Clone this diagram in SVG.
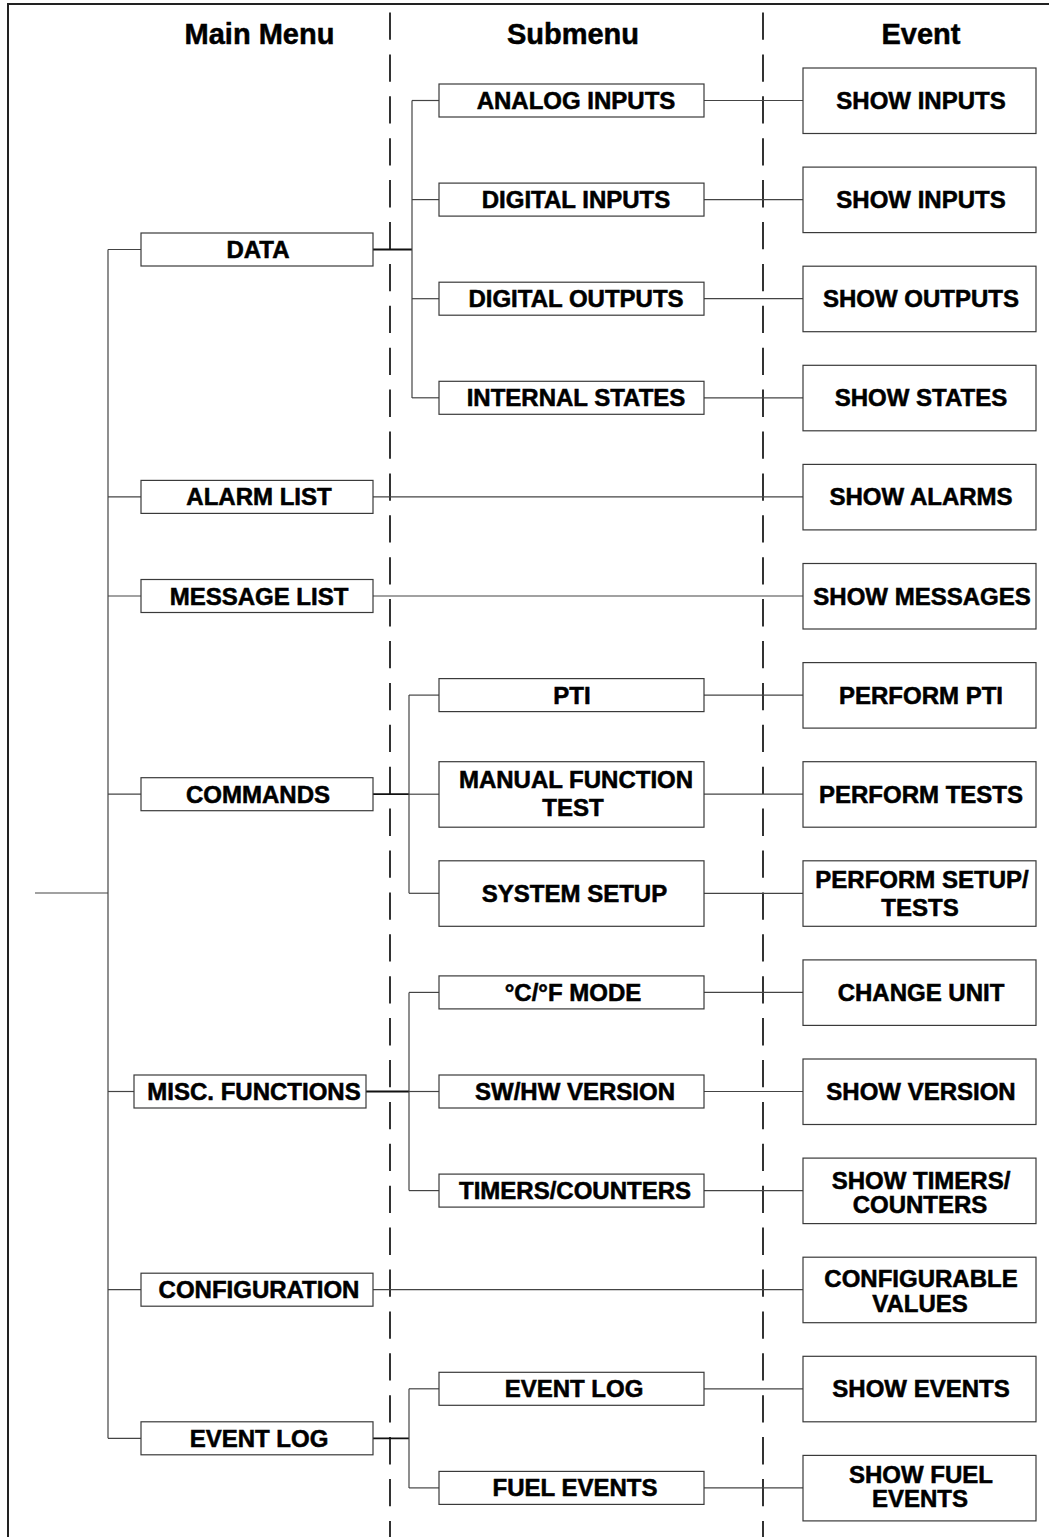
<svg xmlns="http://www.w3.org/2000/svg" width="1049" height="1537" viewBox="0 0 1049 1537">
<style>
.bx{fill:#fff;stroke:#3a3a3a;stroke-width:1.2}
.t{font-family:"Liberation Sans",Arial,sans-serif;font-weight:bold;font-size:24px;fill:#000;text-anchor:middle;stroke:#000;stroke-width:0.55}
.h{font-family:"Liberation Sans",Arial,sans-serif;font-weight:bold;font-size:29px;fill:#000;text-anchor:middle;stroke:#000;stroke-width:0.5}
.c{stroke:#444;stroke-width:1.2;fill:none}
.ck{stroke:#111;stroke-width:1.8;fill:none}
.d{stroke:#000;stroke-width:1.6;stroke-dasharray:27.3 14.6;fill:none}
</style>
<rect x="0" y="0" width="1049" height="1537" fill="#fff"/>
<g id="frame">
<path d="M8,1537 V4 H1049" fill="none" stroke="#222" stroke-width="2"/>
<line class="d" x1="390" y1="12.5" x2="390" y2="1537"/>
<line class="d" x1="763" y1="12.5" x2="763" y2="1537"/>
</g>
<g id="headers">
<text class="h" x="259.5" y="44">Main Menu</text>
<text class="h" x="573" y="44">Submenu</text>
<text class="h" x="921" y="44">Event</text>
</g>
<g id="connectors">
<line class="c" x1="35" y1="893" x2="108" y2="893"/>
<line class="c" x1="108" y1="249.5" x2="108" y2="1438.3"/>
<line class="c" x1="108" y1="249.5" x2="141" y2="249.5"/>
<line class="c" x1="108" y1="496.9" x2="141" y2="496.9"/>
<line class="c" x1="108" y1="596" x2="141" y2="596"/>
<line class="c" x1="108" y1="794.2" x2="141" y2="794.2"/>
<line class="c" x1="108" y1="1091.5" x2="134" y2="1091.5"/>
<line class="c" x1="108" y1="1289.7" x2="141" y2="1289.7"/>
<line class="c" x1="108" y1="1438.3" x2="141" y2="1438.3"/>
<line class="ck" x1="373" y1="249.5" x2="412" y2="249.5"/>
<line class="c" x1="412" y1="100.5" x2="412" y2="398"/>
<line class="c" x1="412" y1="100.5" x2="439" y2="100.5"/>
<line class="c" x1="412" y1="199.6" x2="439" y2="199.6"/>
<line class="c" x1="412" y1="298.7" x2="439" y2="298.7"/>
<line class="c" x1="412" y1="397.8" x2="439" y2="397.8"/>
<line class="ck" x1="373" y1="794.2" x2="409" y2="794.2"/>
<line class="c" x1="409" y1="695.1" x2="409" y2="893.3"/>
<line class="c" x1="409" y1="695.1" x2="439" y2="695.1"/>
<line class="c" x1="409" y1="794.2" x2="439" y2="794.2"/>
<line class="c" x1="409" y1="893.3" x2="439" y2="893.3"/>
<line class="ck" x1="366" y1="1091.5" x2="409" y2="1091.5"/>
<line class="c" x1="409" y1="992.4" x2="409" y2="1190.6"/>
<line class="c" x1="409" y1="992.4" x2="439" y2="992.4"/>
<line class="c" x1="409" y1="1091.5" x2="439" y2="1091.5"/>
<line class="c" x1="409" y1="1190.6" x2="439" y2="1190.6"/>
<line class="ck" x1="373" y1="1438.3" x2="409" y2="1438.3"/>
<line class="c" x1="409" y1="1388.8" x2="409" y2="1487.9"/>
<line class="c" x1="409" y1="1388.8" x2="439" y2="1388.8"/>
<line class="c" x1="409" y1="1487.9" x2="439" y2="1487.9"/>
<line class="c" x1="373" y1="496.9" x2="803" y2="496.9"/>
<line class="c" x1="373" y1="596" x2="803" y2="596"/>
<line class="c" x1="373" y1="1289.7" x2="803" y2="1289.7"/>
<line class="c" x1="704" y1="100.5" x2="803" y2="100.5"/>
<line class="c" x1="704" y1="199.6" x2="803" y2="199.6"/>
<line class="c" x1="704" y1="298.7" x2="803" y2="298.7"/>
<line class="c" x1="704" y1="397.8" x2="803" y2="397.8"/>
<line class="c" x1="704" y1="695.1" x2="803" y2="695.1"/>
<line class="c" x1="704" y1="794.2" x2="803" y2="794.2"/>
<line class="c" x1="704" y1="893.3" x2="803" y2="893.3"/>
<line class="c" x1="704" y1="992.4" x2="803" y2="992.4"/>
<line class="c" x1="704" y1="1091.5" x2="803" y2="1091.5"/>
<line class="c" x1="704" y1="1190.6" x2="803" y2="1190.6"/>
<line class="c" x1="704" y1="1388.8" x2="803" y2="1388.8"/>
<line class="c" x1="704" y1="1487.9" x2="803" y2="1487.9"/>
</g>
<g id="m-data"><rect class="bx" x="141" y="233" width="232" height="33"/><text class="t" x="258" y="258">DATA</text></g>
<g id="m-alarm"><rect class="bx" x="141" y="480.4" width="232" height="33"/><text class="t" x="259" y="505.4">ALARM LIST</text></g>
<g id="m-message"><rect class="bx" x="141" y="579.5" width="232" height="33"/><text class="t" x="259" y="604.5">MESSAGE LIST</text></g>
<g id="m-commands"><rect class="bx" x="141" y="777.7" width="232" height="33"/><text class="t" x="258" y="802.7">COMMANDS</text></g>
<g id="m-misc"><rect class="bx" x="134" y="1075" width="232" height="33"/><text class="t" x="254" y="1100">MISC. FUNCTIONS</text></g>
<g id="m-config"><rect class="bx" x="141" y="1273.2" width="232" height="33"/><text class="t" x="259" y="1298.2">CONFIGURATION</text></g>
<g id="m-eventlog"><rect class="bx" x="141" y="1421.8" width="232" height="33"/><text class="t" x="259" y="1446.8">EVENT LOG</text></g>
<g id="s-analog"><rect class="bx" x="439" y="84" width="265" height="33"/><text class="t" x="576" y="109">ANALOG INPUTS</text></g>
<g id="s-dinputs"><rect class="bx" x="439" y="183.1" width="265" height="33"/><text class="t" x="576" y="208.1">DIGITAL INPUTS</text></g>
<g id="s-doutputs"><rect class="bx" x="439" y="282.2" width="265" height="33"/><text class="t" x="576" y="307.2">DIGITAL OUTPUTS</text></g>
<g id="s-states"><rect class="bx" x="439" y="381.3" width="265" height="33"/><text class="t" x="576" y="406.3">INTERNAL STATES</text></g>
<g id="s-pti"><rect class="bx" x="439" y="678.6" width="265" height="33"/><text class="t" x="572" y="703.6">PTI</text></g>
<g id="s-manual"><rect class="bx" x="439" y="761.7" width="265" height="65.5"/><text class="t" x="576" y="788">MANUAL FUNCTION</text><text class="t" x="573" y="816">TEST</text></g>
<g id="s-setup"><rect class="bx" x="439" y="860.8" width="265" height="65.5"/><text class="t" x="574.5" y="901.8">SYSTEM SETUP</text></g>
<g id="s-mode"><rect class="bx" x="439" y="975.9" width="265" height="33"/><text class="t" x="573" y="1000.9">°C/°F MODE</text></g>
<g id="s-version"><rect class="bx" x="439" y="1075" width="265" height="33"/><text class="t" x="575" y="1100">SW/HW VERSION</text></g>
<g id="s-timers"><rect class="bx" x="439" y="1174.1" width="265" height="33"/><text class="t" x="575" y="1199.1">TIMERS/COUNTERS</text></g>
<g id="s-eventlog"><rect class="bx" x="439" y="1372.3" width="265" height="33"/><text class="t" x="574" y="1397.3">EVENT LOG</text></g>
<g id="s-fuel"><rect class="bx" x="439" y="1471.4" width="265" height="33"/><text class="t" x="575" y="1496.4">FUEL EVENTS</text></g>
<g id="e-inputs1"><rect class="bx" x="803" y="68" width="233" height="65.5"/><text class="t" x="921" y="109">SHOW INPUTS</text></g>
<g id="e-inputs2"><rect class="bx" x="803" y="167.1" width="233" height="65.5"/><text class="t" x="921" y="208.1">SHOW INPUTS</text></g>
<g id="e-outputs"><rect class="bx" x="803" y="266.2" width="233" height="65.5"/><text class="t" x="921" y="307.2">SHOW OUTPUTS</text></g>
<g id="e-states"><rect class="bx" x="803" y="365.3" width="233" height="65.5"/><text class="t" x="921" y="406.3">SHOW STATES</text></g>
<g id="e-alarms"><rect class="bx" x="803" y="464.4" width="233" height="65.5"/><text class="t" x="921" y="505.4">SHOW ALARMS</text></g>
<g id="e-messages"><rect class="bx" x="803" y="563.5" width="233" height="65.5"/><text class="t" x="922" y="604.5">SHOW MESSAGES</text></g>
<g id="e-pti"><rect class="bx" x="803" y="662.6" width="233" height="65.5"/><text class="t" x="921" y="703.6">PERFORM PTI</text></g>
<g id="e-tests"><rect class="bx" x="803" y="761.7" width="233" height="65.5"/><text class="t" x="921" y="802.7">PERFORM TESTS</text></g>
<g id="e-setup"><rect class="bx" x="803" y="860.8" width="233" height="65.5"/><text class="t" x="922" y="888">PERFORM SETUP/</text><text class="t" x="920" y="916">TESTS</text></g>
<g id="e-unit"><rect class="bx" x="803" y="959.9" width="233" height="65.5"/><text class="t" x="921" y="1000.9">CHANGE UNIT</text></g>
<g id="e-version"><rect class="bx" x="803" y="1059" width="233" height="65.5"/><text class="t" x="921" y="1100">SHOW VERSION</text></g>
<g id="e-timers"><rect class="bx" x="803" y="1158.1" width="233" height="65.5"/><text class="t" x="921" y="1189">SHOW TIMERS/</text><text class="t" x="920" y="1213">COUNTERS</text></g>
<g id="e-config"><rect class="bx" x="803" y="1257.2" width="233" height="65.5"/><text class="t" x="921" y="1287">CONFIGURABLE</text><text class="t" x="920" y="1312">VALUES</text></g>
<g id="e-events"><rect class="bx" x="803" y="1356.3" width="233" height="65.5"/><text class="t" x="921" y="1397.3">SHOW EVENTS</text></g>
<g id="e-fuel"><rect class="bx" x="803" y="1455.4" width="233" height="65.5"/><text class="t" x="921" y="1483">SHOW FUEL</text><text class="t" x="920" y="1507">EVENTS</text></g>
</svg>
